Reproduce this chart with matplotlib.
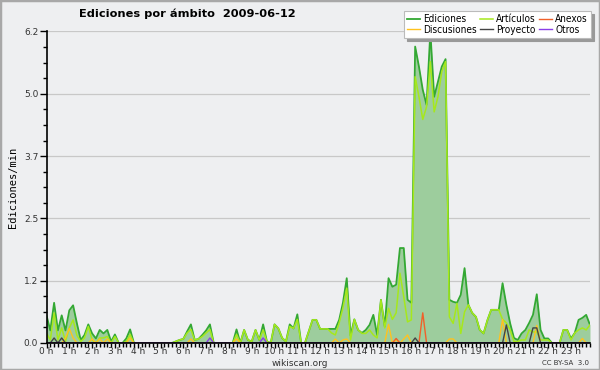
import numpy as np
import matplotlib
matplotlib.use('Agg')
import matplotlib.pyplot as plt
from matplotlib.patches import Rectangle

# 10-minute bins over the day (values in edits/min)
hour_labels = [f"{h} h" for h in range(24)]
ytick_labels = ['0.0', '1.2', '2.5', '3.7', '5.0', '6.2']

ediciones = [
    0.55, 0.25, 0.8, 0.25, 0.55, 0.25,      # 0h
    0.65, 0.75, 0.39, 0.06, 0.16, 0.37,     # 1h
    0.19, 0.09, 0.26, 0.19, 0.26, 0.03,     # 2h
    0.17, 0, 0, 0.09, 0.27, 0,              # 3h
    0, 0, 0, 0, 0, 0,                       # 4h
    0, 0, 0, 0, 0.03, 0.06,                 # 5h
    0.08, 0.23, 0.37, 0.06, 0.08, 0.16,     # 6h
    0.25, 0.37, 0, 0, 0, 0,                 # 7h
    0, 0, 0.27, 0, 0.26, 0.06,              # 8h
    0.03, 0.26, 0.06, 0.37, 0.03, 0,        # 9h
    0.37, 0.29, 0.1, 0.03, 0.37, 0.29,      # 10h
    0.57, 0, 0, 0.23, 0.46, 0.46,           # 11h
    0.28, 0.28, 0.28, 0.28, 0.28, 0.46,     # 12h
    0.8, 1.29, 0.15, 0.47, 0.26, 0.2,       # 13h
    0.26, 0.36, 0.56, 0.16, 0.86, 0.33,     # 14h
    1.29, 1.12, 1.16, 1.89, 1.89, 0.86,     # 15h
    0.8, 5.9, 5.5, 5.04, 4.74, 6.2,         # 16h
    4.9, 5.2, 5.5, 5.65, 0.86, 0.82,        # 17h
    0.8, 0.96, 1.49, 0.76, 0.6, 0.52,       # 18h
    0.26, 0.19, 0.45, 0.66, 0.66, 0.66,     # 19h
    1.19, 0.76, 0.39, 0.1, 0.06, 0.19,      # 20h
    0.26, 0.4, 0.56, 0.97, 0.26, 0.09,      # 21h
    0.09, 0, 0, 0, 0.26, 0.26,              # 22h
    0.09, 0.2, 0.46, 0.5, 0.56, 0.36,       # 23h
]

articulos = [
    0.2, 0.06, 0.6, 0.06, 0.3, 0.03,
    0.3, 0.46, 0.15, 0.03, 0.1, 0.33,
    0.06, 0, 0.1, 0.1, 0.13, 0,
    0.13, 0, 0, 0.03, 0.17, 0,
    0, 0, 0, 0, 0, 0,
    0, 0, 0, 0, 0.03, 0.06,
    0.08, 0.2, 0.27, 0.06, 0.08, 0.13,
    0.2, 0.27, 0, 0, 0, 0,
    0, 0, 0.17, 0, 0.26, 0.06,
    0.03, 0.26, 0.06, 0.26, 0.03, 0,
    0.37, 0.29, 0.1, 0.03, 0.33, 0.29,
    0.47, 0, 0, 0.23, 0.46, 0.46,
    0.28, 0.28, 0.28, 0.2, 0.16, 0.4,
    0.7, 1.09, 0.06, 0.47, 0.26, 0.19,
    0.19, 0.26, 0.16, 0.1, 0.86, 0.3,
    0.69, 0.47, 0.6, 1.39, 0.92, 0.42,
    0.46, 5.3, 4.9, 4.45, 4.7, 5.6,
    4.6, 4.9, 5.4, 5.6, 0.52, 0.39,
    0.79, 0.19, 0.62, 0.76, 0.6, 0.52,
    0.26, 0.19, 0.45, 0.66, 0.66, 0.66,
    0.47, 0.4, 0.26, 0.03, 0.03, 0.06,
    0.06, 0.26, 0.22, 0.22, 0.06, 0.06,
    0.06, 0, 0, 0, 0.26, 0.26,
    0.06, 0.2, 0.26, 0.3, 0.26, 0.36,
]

discusiones = [
    0, 0, 0, 0, 0, 0.1,
    0.29, 0.1, 0, 0, 0, 0,
    0.08, 0, 0.08, 0, 0.08, 0,
    0, 0, 0, 0, 0.1, 0,
    0, 0, 0, 0, 0, 0,
    0, 0, 0, 0, 0, 0,
    0, 0, 0.08, 0, 0, 0,
    0, 0, 0, 0, 0, 0,
    0, 0, 0.08, 0, 0, 0,
    0, 0, 0, 0, 0, 0,
    0, 0, 0, 0, 0, 0,
    0, 0, 0, 0, 0, 0,
    0, 0, 0, 0, 0.08, 0,
    0.06, 0.08, 0, 0, 0, 0,
    0, 0, 0, 0, 0, 0,
    0.37, 0, 0.06, 0, 0.08, 0.16,
    0, 0, 0, 0, 0, 0,
    0, 0, 0, 0, 0.08, 0.08,
    0, 0, 0, 0, 0, 0,
    0, 0, 0, 0, 0, 0,
    0.47, 0, 0, 0, 0, 0,
    0, 0, 0, 0.35, 0, 0,
    0, 0, 0, 0, 0, 0,
    0, 0, 0, 0.09, 0, 0,
]

anexos = [
    0, 0, 0, 0, 0, 0,
    0, 0, 0, 0, 0, 0,
    0, 0, 0, 0, 0, 0,
    0, 0, 0, 0, 0, 0,
    0, 0, 0, 0, 0, 0,
    0, 0, 0, 0, 0, 0,
    0, 0, 0, 0, 0, 0,
    0, 0, 0, 0, 0, 0,
    0, 0, 0, 0, 0, 0,
    0, 0, 0, 0, 0, 0,
    0, 0, 0, 0, 0, 0,
    0, 0, 0, 0, 0, 0,
    0, 0, 0, 0, 0, 0,
    0, 0, 0, 0, 0, 0,
    0, 0, 0, 0, 0, 0,
    0, 0, 0.09, 0, 0, 0,
    0, 0, 0, 0.6, 0, 0,
    0, 0, 0, 0, 0, 0,
    0, 0, 0, 0, 0, 0,
    0, 0, 0, 0, 0, 0,
    0, 0, 0, 0, 0, 0,
    0, 0, 0, 0, 0, 0,
    0, 0, 0, 0, 0, 0,
    0, 0, 0, 0, 0, 0,
]

proyecto = [
    0, 0, 0.1, 0, 0.1, 0,
    0, 0, 0, 0, 0, 0,
    0, 0, 0, 0, 0, 0,
    0, 0, 0, 0, 0, 0,
    0, 0, 0, 0, 0, 0,
    0, 0, 0, 0, 0, 0,
    0, 0, 0, 0, 0, 0,
    0, 0, 0, 0, 0, 0,
    0, 0, 0, 0, 0, 0,
    0, 0, 0, 0, 0, 0,
    0, 0, 0, 0, 0, 0,
    0, 0, 0, 0, 0, 0,
    0, 0, 0, 0, 0, 0,
    0, 0, 0, 0, 0, 0,
    0, 0, 0, 0, 0, 0,
    0, 0, 0, 0, 0, 0,
    0, 0.1, 0, 0, 0, 0,
    0, 0, 0, 0, 0, 0,
    0, 0, 0, 0, 0, 0,
    0, 0, 0, 0, 0, 0,
    0, 0.36, 0, 0, 0, 0,
    0, 0, 0.3, 0.3, 0, 0,
    0, 0, 0, 0, 0, 0,
    0, 0, 0, 0, 0, 0,
]

otros = [
    0, 0, 0, 0, 0, 0,
    0, 0, 0, 0, 0, 0,
    0, 0, 0, 0, 0, 0,
    0, 0, 0, 0, 0, 0,
    0, 0, 0, 0, 0, 0,
    0, 0, 0, 0, 0, 0,
    0, 0, 0, 0, 0, 0,
    0, 0.1, 0, 0, 0, 0,
    0, 0, 0, 0, 0, 0,
    0, 0, 0, 0.1, 0, 0,
    0, 0, 0, 0, 0, 0,
    0, 0, 0, 0, 0, 0,
    0, 0, 0, 0, 0, 0,
    0, 0, 0, 0, 0, 0,
    0, 0, 0, 0, 0, 0,
    0, 0, 0, 0, 0, 0,
    0, 0, 0, 0, 0, 0,
    0, 0, 0, 0, 0, 0,
    0, 0, 0, 0, 0, 0,
    0, 0, 0, 0, 0, 0,
    0, 0, 0, 0, 0, 0,
    0, 0, 0, 0, 0, 0,
    0, 0, 0, 0, 0, 0,
    0, 0, 0, 0, 0, 0,
]

BG = '#eeeff1'
fig = plt.figure(figsize=(6.0, 3.7), dpi=100, facecolor=BG)
fig.patches.append(Rectangle((0, 0), 1, 1, transform=fig.transFigure,
                             facecolor='none', edgecolor='#a8a8a8', linewidth=2.5))

ax = fig.add_axes([0.0775, 0.073, 0.9058, 0.8419], facecolor=BG)
x = np.arange(len(ediciones))

ax.fill_between(x, 0, ediciones, color='#9dcd9d', linewidth=0, zorder=1)
l_ed, = ax.plot(x, ediciones, color='#33a833', lw=1.3, zorder=3, label='Ediciones')
l_art, = ax.plot(x, articulos, color='#a6e81c', lw=1.1, zorder=4, label='Artículos')
l_dis, = ax.plot(x, discusiones, color='#ffc21f', lw=1.0, zorder=5, label='Discusiones')
l_anx, = ax.plot(x, anexos, color='#f0602a', lw=1.0, zorder=6, label='Anexos')
l_pro, = ax.plot(x, proyecto, color='#444444', lw=1.0, zorder=7, label='Proyecto')
l_otr, = ax.plot(x, otros, color='#8a3ee8', lw=1.0, zorder=7, label='Otros')

ax.set_xlim(0, len(ediciones) - 1)
ax.set_ylim(0, 6.2)

yt = np.linspace(0, 6.2, 6)
ax.set_yticks(yt)
ax.set_yticklabels(ytick_labels)
ax.set_yticks(np.arange(0, 6.21, 6.2 / 20), minor=True)
ax.set_xticks(np.arange(0, 144, 6))
ax.set_xticklabels(hour_labels)
ax.set_xticks(np.arange(0, 144, 1), minor=True)

ax.grid(axis='y', which='major', color='#c8c8c8', linewidth=0.9, zorder=0)
ax.set_axisbelow(True)
for s in ('top', 'right'):
    ax.spines[s].set_visible(False)
for s in ('left', 'bottom'):
    ax.spines[s].set_color('black')
    ax.spines[s].set_linewidth(1.2)
    ax.spines[s].set_zorder(10)

ax.tick_params(axis='both', which='both', direction='out', color='black', width=1.0)
ax.tick_params(axis='y', which='major', length=5, labelsize=6.5, labelcolor='#333333', pad=1)
ax.tick_params(axis='y', which='minor', length=3)
ax.tick_params(axis='x', which='major', length=3.5, labelsize=6.5, labelcolor='#333333', pad=-0.5)
ax.tick_params(axis='x', which='minor', length=3)

ax.set_ylabel('Ediciones/min', family='DejaVu Sans Mono', fontsize=7.5, labelpad=4)

fig.text(0.312, 0.962, 'Ediciones por ámbito  2009-06-12', fontsize=8.2,
         fontweight='bold', ha='center', va='center')
fig.text(0.5, 0.017, 'wikiscan.org', fontsize=6.5, ha='center', va='center', color='#333333')
fig.text(0.982, 0.019, 'CC BY-SA  3.0', fontsize=5, ha='right', va='center', color='#333333')

handles = [l_ed, l_dis, l_art, l_pro, l_anx, l_otr]
leg = fig.legend(handles=handles, labels=[h.get_label() for h in handles],
                 loc='upper right', bbox_to_anchor=(0.985, 0.97),
                 bbox_transform=fig.transFigure, ncol=3,
                 prop={'family': 'DejaVu Sans', 'stretch': 'condensed', 'size': 7.2},
                 frameon=True, fancybox=False, shadow={'color': '#999999', 'alpha': 1},
                 handlelength=1.3, handletextpad=0.3, columnspacing=0.35,
                 labelspacing=0.08, borderpad=0.3, borderaxespad=0)
leg.get_frame().set_facecolor('white')
leg.get_frame().set_edgecolor('#bbbbbb')
leg.get_frame().set_linewidth(0.8)
leg.set_zorder(20)

fig.savefig('out.png', dpi=100, facecolor=BG)
